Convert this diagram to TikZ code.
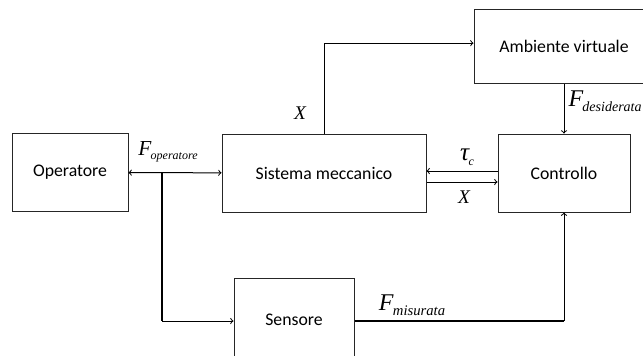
\documentclass[tikz,border=0pt]{standalone}
\usepackage{fontspec}
\setmainfont{Carlito}
\newfontfamily\tnr{Liberation Serif}
\newcommand{\forza}[4]{{\tnr\itshape\fontsize{#1}{#1}\selectfont #3\kern-0.5pt\raisebox{-0.45ex}{\fontsize{#2}{#2}\selectfont #4}}}

\begin{document}
\begin{tikzpicture}[x=0.75pt, y=-0.75pt, line width=0.75pt, >=to,
    blocco/.style={draw=black!85, rectangle, align=center, font=\fontsize{13.3}{15}\selectfont, inner sep=0pt},
    spesso/.style={line width=1.9pt}]
    \useasboundingbox (0,0) rectangle (643,355);

    \node (Operatore) [blocco, minimum width=87pt, minimum height=59pt] at (70,172.5) {Operatore};
    \node (Sistema) [blocco, minimum width=153pt, minimum height=58.5pt] at (324,173) {Sistema meccanico};
    \node (Controllo) [blocco, minimum width=99pt, minimum height=58.5pt] at (564,173) {Controllo};
    \node (Ambiente) [blocco, minimum width=135pt, minimum height=55pt] at (564,46.5) {Ambiente virtuale};
    \node (Sensore) [blocco, minimum width=90pt, minimum height=63pt] at (294,320) {Sensore};

    \coordinate (Nodo) at (162,172.5);
    \coordinate (Angolo) at (162,321);
    \coordinate (Ritorno) at (564,321);

    \draw[<->] (Operatore) -- (Sistema);
    \draw[spesso] (Nodo) -- (Angolo);
    \draw[->] (Angolo) -- (Sensore.west |- Angolo);
    \draw[spesso] (Sensore.east |- Ritorno) -- (Ritorno);
    \draw[->] (Ritorno) -- (Controllo.south);
    \draw[->] (Sistema.north) |- ([yshift=2.5pt]Ambiente.west);
    \draw[->] (Ambiente) -- (Controllo);
    \draw[->] ([yshift=1.5pt]Controllo.west) -- ([yshift=1.5pt]Sistema.east);
    \draw[->] ([yshift=-6.75pt]Sistema.east) -- ([yshift=-6.75pt]Controllo.west);

    \node (Xalto) at (300,113) {\tnr\itshape\fontsize{14.5}{14.5}\selectfont X};
    \node (Fop) at (168,152) {\forza{16}{9}{F}{operatore}};
    \node (Fdes) [anchor=west, inner sep=0pt] at (568,101) {\forza{18}{10.5}{F}{desiderata}};
    \node (Tau) at (467,157) {\forza{19}{9}{τ}{c}};
    \node (Xbasso) at (464,197) {\tnr\itshape\fontsize{14.5}{14.5}\selectfont X};
    \node (Fmis) [anchor=west] at (374,305) {\forza{18}{11}{F}{misurata}};
\end{tikzpicture}
\end{document}
